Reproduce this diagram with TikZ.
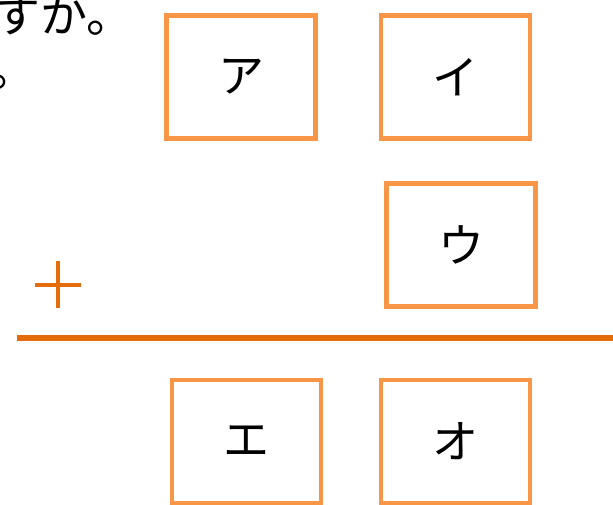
\documentclass[tikz,border=0pt]{standalone}
\usepackage{fontspec}
\setmainfont{Noto Sans CJK JP}
\definecolor{boxorange}{HTML}{F79646}
\definecolor{lineorange}{HTML}{E46C0A}
\tikzset{
  digitbox/.style={draw=boxorange, line width=4.5pt, rectangle, inner sep=0pt,
    minimum width=149pt, minimum height=123pt, font=\fontsize{46}{54}\selectfont},
  toptext/.style={anchor=base west, inner sep=0pt, font=\fontsize{47}{54}\selectfont},
}
\begin{document}
\begin{tikzpicture}[x=1pt,y=-1pt]
\useasboundingbox (0,0) rectangle (613,505);
\node[toptext] (t1) at (-7,33) {すか。};
\node[toptext] (t2) at (-11,87) {。};
\node[digitbox] (a) at (241,77) {ア};
\node[digitbox] (i) at (455.5,77) {イ};
\node[digitbox] (u) at (461,245) {ウ};
\node[digitbox] (e) at (246.5,441.5) {エ};
\node[digitbox] (o) at (455.5,441.5) {オ};
\coordinate (pl) at (35,285);
\coordinate (pr) at (81,285);
\coordinate (pt) at (58,261);
\coordinate (pb) at (58,308);
\draw[lineorange, line width=4pt] (pl) -- (pr);
\draw[lineorange, line width=4pt] (pt) -- (pb);
\coordinate (ls) at (17,338);
\coordinate (le) at (620,338);
\draw[lineorange, line width=6pt] (ls) -- (le);
\end{tikzpicture}
\end{document}
